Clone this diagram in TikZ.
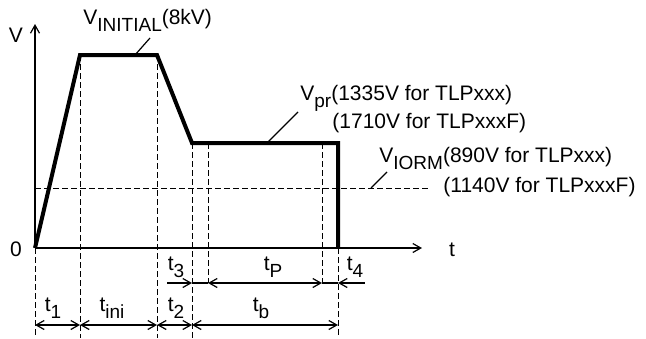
\documentclass[tikz,border=0pt]{standalone}
\usepackage{fontspec}
\setmainfont{Liberation Sans}
\usetikzlibrary{arrows.meta}

\newcommand{\lowsub}[1]{\raisebox{-3.5pt}{\fontsize{9.5}{10}\selectfont #1}}

\tikzset{
  wave/.style={line width=2pt},
  axis/.style={line width=0.6pt,-{Straight Barb[length=4pt,width=4.5pt]}},
  guide/.style={line width=0.5pt,dash pattern=on 3pt off 1.5pt},
  dimline/.style={line width=0.6pt},
  lbl/.style={inner sep=0pt,font=\fontsize{10.5}{12}\selectfont},
}

\begin{document}
\begin{tikzpicture}[x=0.5pt,y=-0.5pt,>={Straight Barb[length=4pt,width=4.5pt]}]
                \useasboundingbox (0,0) rectangle (646,338);

                % points of the waveform
                \coordinate (O) at (35,248);
                \coordinate (A) at (80,55);
                \coordinate (B) at (157,55);
                \coordinate (C) at (192,143);
                \coordinate (Cp) at (208,143);
                \coordinate (Dp) at (322,143);
                \coordinate (D) at (338,143);
                \coordinate (E) at (338,248);
                \coordinate (ytop) at (35,24);
                \coordinate (xend) at (422,248);
                \coordinate (iorm0) at (35,188);
                \coordinate (iorm1) at (430,188);
                \coordinate (rowP) at (0,283);
                \coordinate (rowB) at (0,325);
                \coordinate (bot) at (0,338);

                % axes
                \draw[axis] (O) -- (ytop);
                \draw[axis] (O) -- (xend);
                \node[lbl] (vlab) at (16,35) {V};
                \node[lbl] (zero) at (16,249) {0};
                \node[lbl] (tlab) at (452,250) {t};

                % guide lines
                \draw[guide] (iorm0) -- (iorm1);
                \draw[guide] (O) -- (O |- bot);
                \draw[guide] (A) -- (A |- bot);
                \draw[guide] (B) -- (B |- bot);
                \draw[guide] (C) -- (C |- bot);
                \draw[guide] (Cp) -- (Cp |- rowP);
                \draw[guide] (Dp) -- (Dp |- rowP);
                \draw[guide] (E) -- (E |- bot);

                % waveform
                \draw[wave] (O) -- (A) -- (B) -- (C) -- (D) -- (E);

                % labels of the levels
                \node[lbl,anchor=base west] (vini) at (83,24) {V\lowsub{INITIAL}(8kV)};
                \node[lbl,anchor=base west] (vpr) at (300,100) {V\lowsub{pr}(1335V for TLPxxx)};
                \node[lbl,anchor=base west] (vprF) at (332,128) {(1710V for TLPxxxF)};
                \node[lbl,anchor=base west] (viorm) at (379,162) {V\lowsub{IORM}(890V for TLPxxx)};
                \node[lbl,anchor=base west] (viormF) at (443,192) {(1140V for TLPxxxF)};
                \draw[dimline] (135,55) coordinate (l1) -- (150,38) coordinate (l1e);
                \draw[dimline] (267,143) coordinate (l2) -- (298,112) coordinate (l2e);
                \draw[dimline] (371,188) coordinate (l3) -- (387,172) coordinate (l3e);

                % time intervals
                \coordinate (t3s) at (167,283);
                \coordinate (t4s) at (365,283);
                \draw[dimline,->] (t3s) -- (C |- rowP);
                \draw[dimline] (C |- rowP) -- (Cp |- rowP);
                \draw[dimline,<->] (Cp |- rowP) -- (Dp |- rowP);
                \draw[dimline] (Dp |- rowP) -- (D |- rowP);
                \draw[dimline,<-] (D |- rowP) -- (t4s);

                \draw[dimline,<->] (O |- rowB) -- (A |- rowB);
                \draw[dimline,<->] (A |- rowB) -- (B |- rowB);
                \draw[dimline,<->] (B |- rowB) -- (C |- rowB);
                \draw[dimline,<->] (C |- rowB) -- (D |- rowB);

                \node[lbl,anchor=base] (t1) at (53,311) {t\lowsub{1}};
                \node[lbl,anchor=base] (tini) at (112,311) {t\lowsub{ini}};
                \node[lbl,anchor=base] (t2) at (176,311) {t\lowsub{2}};
                \node[lbl,anchor=base] (tb) at (261,311) {t\lowsub{b}};
                \node[lbl,anchor=base] (t3) at (176,270) {t\lowsub{3}};
                \node[lbl,anchor=base] (tP) at (273,270) {t\lowsub{P}};
                \node[lbl,anchor=base] (t4) at (355,270) {t\lowsub{4}};
            \end{tikzpicture}
\end{document}
